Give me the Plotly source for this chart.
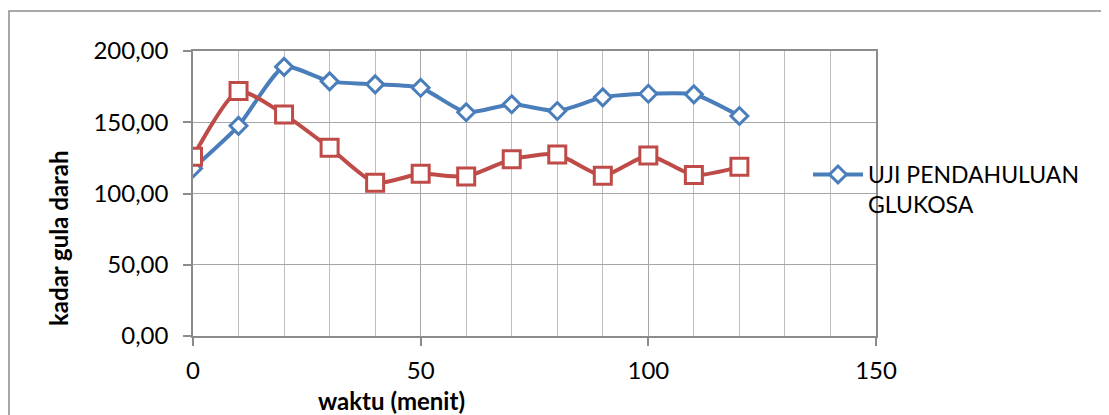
import plotly.graph_objects as go

waktu = [0, 10, 20, 30, 40, 50, 60, 70, 80, 90, 100, 110, 120]
uji_pendahuluan = [117.6, 147.5, 188.9, 178.7, 176.6, 174.2, 157.0, 162.6, 157.9, 167.5, 170.0, 169.6, 154.4]
seri_kedua = [125.8, 171.9, 155.5, 132.1, 107.5, 113.8, 112.0, 124.0, 127.4, 112.4, 126.7, 112.9, 118.7]

BLUE = "#4A7EBB"
RED = "#BE4B48"
FONT = "Lato"

W, H = 1109, 415
OFF = 8  # page body margin
LREF, TREF = 193, 51          # plot-area corner in the reference picture
pw, ph = 683, 285             # plot-area size
L, T = LREF - OFF, TREF - OFF
R, B = W - L - pw, H - T - ph

fig = go.Figure()
fig.add_trace(go.Scatter(
    x=waktu, y=uji_pendahuluan, mode="lines+markers",
    name="UJI PENDAHULUAN<br>GLUKOSA",
    line=dict(color=BLUE, width=4, shape="spline", smoothing=0.6),
    marker=dict(symbol="diamond", size=13, color="white", line=dict(color=BLUE, width=3)),
))
fig.add_trace(go.Scatter(
    x=waktu, y=seri_kedua, mode="lines+markers", showlegend=False,
    line=dict(color=RED, width=4, shape="spline", smoothing=0.6),
    marker=dict(symbol="square", size=17, color="white", line=dict(color=RED, width=3)),
))

def px(xp):
    return (xp - LREF) / pw

def py(yp):
    return (TREF + ph - yp) / ph

fig.add_shape(type="rect", xref="paper", yref="paper",
              x0=px(9), x1=px(1107), y0=py(440), y1=py(11),
              line=dict(color="#8C8C8C", width=1.5), layer="below")

fig.add_annotation(text="<b>waktu (menit)</b>", xref="paper", yref="paper",
                   x=px(391), y=py(400), xanchor="center", yanchor="middle",
                   showarrow=False,
                   font=dict(family=FONT, size=24, color="black"))
fig.add_annotation(text="<b>kadar gula darah</b>", xref="paper", yref="paper",
                   x=px(58), y=py(238), xanchor="center", yanchor="middle",
                   showarrow=False, textangle=-90,
                   font=dict(family=FONT, size=24, color="black"))

fig.update_layout(
    width=W, height=H,
    margin=dict(l=L, r=R, t=T, b=B),
    paper_bgcolor="white", plot_bgcolor="white",
    font=dict(family=FONT, size=24, color="black"),
    separators=",.",
    showlegend=True,
    legend=dict(x=px(808), y=py(153), xanchor="left", yanchor="top",
                valign="top", itemwidth=50, bgcolor="rgba(0,0,0,0)",
                font=dict(family=FONT, size=23, color="black")),
    xaxis=dict(range=[0, 150], dtick=50, tick0=0,
               showgrid=True, gridcolor="#A6A6A6", gridwidth=1,
               minor=dict(dtick=10, showgrid=True, gridcolor="#BFBFBF", gridwidth=1),
               showline=True, linecolor="#8C8C8C", linewidth=1.5, mirror=True,
               ticks="outside", ticklen=8, tickcolor="#8C8C8C", tickwidth=1.5,
               ticklabelstandoff=4,
               zeroline=False, tickfont=dict(size=24)),
    yaxis=dict(range=[0, 200], dtick=50, tick0=0, tickformat=".2f",
               showgrid=True, gridcolor="#A6A6A6", gridwidth=1,
               showline=True, linecolor="#8C8C8C", linewidth=1.5, mirror=True,
               ticks="outside", ticklen=8, tickcolor="#8C8C8C", tickwidth=1.5,
               ticklabelstandoff=10,
               zeroline=False, tickfont=dict(size=24)),
)

fig.write_html("out.html")
